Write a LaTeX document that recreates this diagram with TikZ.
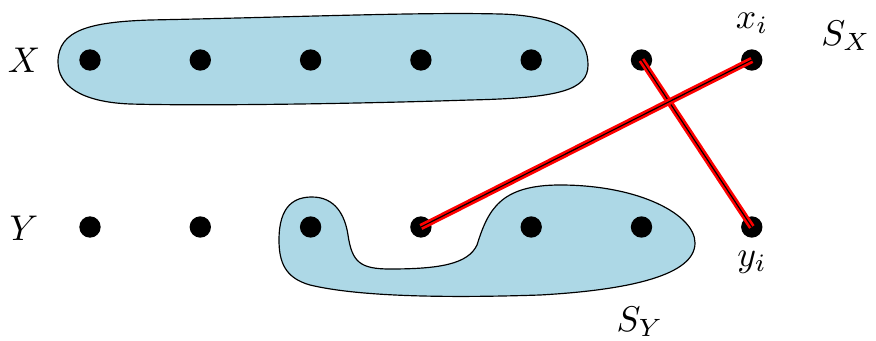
\documentclass[tikz,border=0pt]{standalone}
\definecolor{lightblue}{RGB}{173,216,230}
\tikzset{
  dot/.style={circle,fill=black,inner sep=0pt,minimum size=0.64cm},
  lbl/.style={scale=3.05,inner sep=0pt},
  blob/.style={draw=black,fill=lightblue,line width=1pt},
  swap/.style={draw=red,line width=5.5pt}
}
\begin{document}
\begin{tikzpicture}[x=0.03cm,y=-0.03cm]
\useasboundingbox (0,0) rectangle (876,341);

% the two sets
\draw[blob] (58,62) .. controls (58,30) and (90,22) .. (150,20)
  .. controls (300,17) and (420,12) .. (500,14)
  .. controls (570,16) and (588,40) .. (588,65)
  .. controls (588,90) and (560,98) .. (470,100)
  .. controls (350,104) and (200,106) .. (130,104)
  .. controls (80,102) and (58,85) .. (58,62) -- cycle;
\draw[blob] (279,240) .. controls (279,205) and (295,197) .. (312,197)
  .. controls (335,197) and (345,215) .. (348,235)
  .. controls (352,262) and (360,269) .. (390,269)
  .. controls (440,269) and (468,264) .. (477,245)
  .. controls (488,210) and (500,185) .. (560,185)
  .. controls (640,185) and (695,215) .. (695,243)
  .. controls (695,275) and (630,290) .. (540,295)
  .. controls (450,298) and (360,297) .. (310,285)
  .. controls (285,278) and (279,262) .. (279,240) -- cycle;

\foreach \i in {0,...,6}
{\node[dot] (x\i) at (90+110.3*\i,60) {};
\node[dot] (y\i) at (90+110.3*\i,227) {};}

% crossing pair
\foreach \a/\b in {x5/y6,y3/x6}
{\draw[swap] (\a.center) -- (\b.center);
\draw[line width=1pt] (\a.center) -- (\b.center);}

\node[lbl] (X) at (24,60) {$X$};
\node[lbl] (Y) at (24,228) {$Y$};
\node[lbl] (xi) at (752,23) {$x_i$};
\node[lbl] (yi) at (752,262) {$y_i$};
\node[lbl] (SX) at (846,36) {$S_X$};
\node[lbl] (SY) at (640,322) {$S_Y$};

\end{tikzpicture}
\end{document}
